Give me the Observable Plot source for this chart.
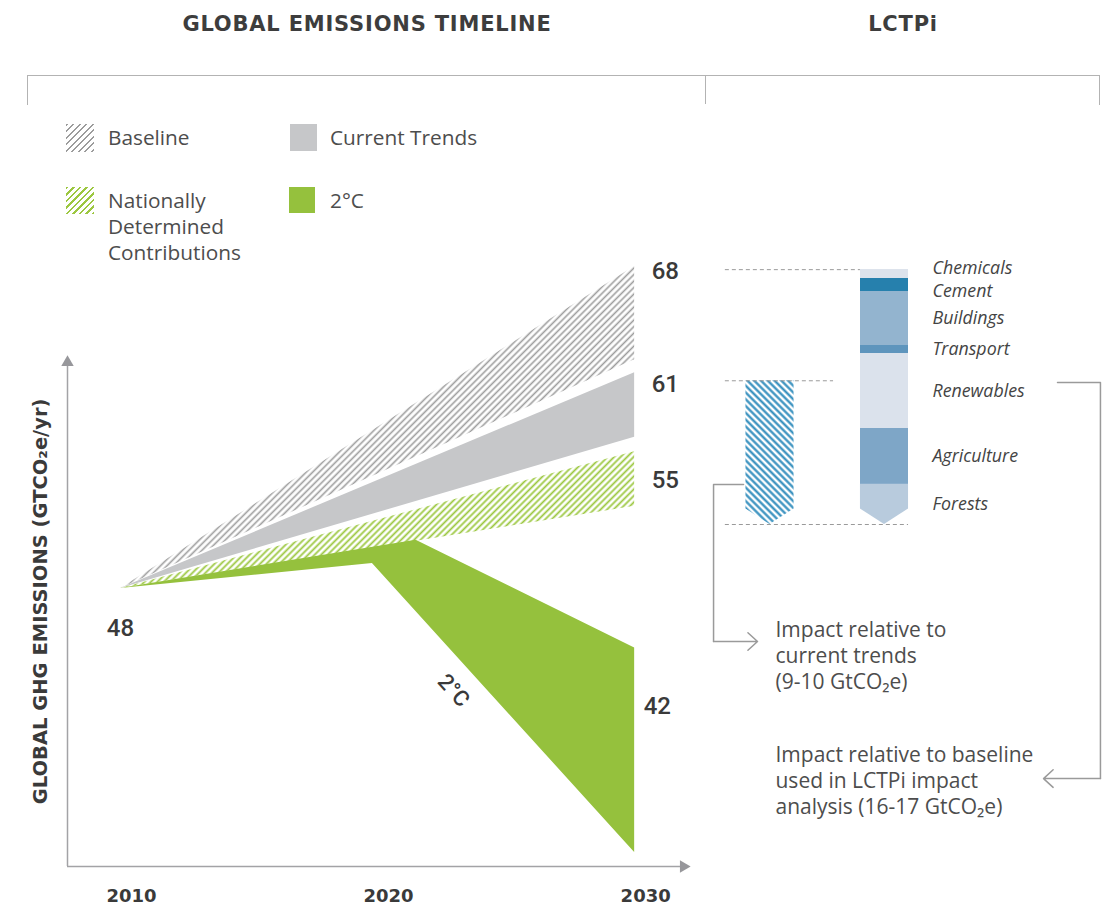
<!DOCTYPE html>
<html><head><meta charset="utf-8">
<script src="https://cdn.jsdelivr.net/npm/d3@7"></script>
<script src="https://cdn.jsdelivr.net/npm/@observablehq/plot@0.6"></script>
<style>
body{margin:0;background:#fff;}
#page{position:relative;width:1103px;height:909px;overflow:hidden;font-family:"Open Sans",sans-serif;color:#4a4a4a;}
.hdr{position:absolute;top:9px;font-family:"DejaVu Sans",sans-serif;font-weight:bold;font-size:21px;letter-spacing:0.8px;color:#3d3d3d;text-align:center;line-height:30px;}
.brk{position:absolute;border:1.5px solid #b3b3b3;border-bottom:none;}
.sw{position:absolute;}
.lt{position:absolute;font-size:20.8px;line-height:26px;color:#4d4d4d;white-space:nowrap;}
#left,#right{position:absolute;top:105px;}
#left{left:0;} #right{left:706px;}
svg{overflow:visible;}
</style></head><body><div id="page">
<div class="hdr" style="left:0;width:734px;">GLOBAL EMISSIONS TIMELINE</div>
<div class="hdr" style="left:706px;width:394px;">LCTPi</div>
<div class="brk" style="left:27px;top:75px;width:1071px;height:29px;"></div>
<div class="brk" style="left:705px;top:75px;width:0;height:29px;border-top:none;border-right:none;"></div>
<div id="left"></div>
<div id="right"></div>
<div class="sw" style="left:66px;top:124px;width:28px;height:28px;background:repeating-linear-gradient(135deg,#9c9c9c 0 1.6px,#fff 1.6px 4.6px);"></div>
<div class="lt" style="left:108px;top:124px;">Baseline</div>
<div class="sw" style="left:290px;top:124px;width:27px;height:27px;background:#c6c7c9;"></div>
<div class="lt" style="left:330px;top:124px;">Current Trends</div>
<div class="sw" style="left:66px;top:187px;width:28px;height:27px;background:repeating-linear-gradient(135deg,#9cc740 0 1.8px,#fff 1.8px 4.6px);"></div>
<div class="lt" style="left:108px;top:187px;">Nationally<br>Determined<br>Contributions</div>
<div class="sw" style="left:289px;top:187px;width:26px;height:26px;background:#95c13d;"></div>
<div class="lt" style="left:330px;top:187px;">2°C</div>
</div>
<script>
// ---------- DATA: global emissions timeline (GtCO2e/yr) ----------
const years = [2010, 2030];
const baselineHigh = [48, 68];
const baselineLow = [48, 62.2];
const trendsHigh = [48, 61.4];
const trendsLow = [48, 57.4];
const ndcHigh = [48, 56.5];
const ndcLow = [48, 53.1];
// 2°C pathway: upper and lower edges peak in different years
const twoDegUpperYears = [2010, 2021.5, 2030];
const twoDegUpper = [48, 51.0, 44.3];
const twoDegLowerYears = [2010, 2019.8, 2030];
const twoDegLower = [48, 49.55, 31.6];
const endLabels = [68, 61, 55];
const lowLabel = 42;
const startLabel = 48;
const xTicks = [2010, 2020, 2030];
const yLabel = "GLOBAL GHG EMISSIONS (GTCO₂e/yr)";
const curveLabel = "2°C";

// ---------- DATA: LCTPi impact (GtCO2e) ----------
const sectors = ["Forests", "Agriculture", "Renewables", "Transport", "Buildings", "Cement", "Chemicals"];
const sectorImpact = [2.6, 3.6, 4.85, 0.52, 3.5, 0.84, 0.58];
const currentTrendsImpact = 9.3;
const noteTrends = "Impact relative to\ncurrent trends\n(9-10 GtCO₂e)";
const noteBaseline = "Impact relative to baseline\nused in LCTPi impact\nanalysis (16-17 GtCO₂e)";

// ---------- styles ----------
const sectorPalette = ["#b8cbdd", "#7ea6c7", "#dbe2ec", "#5e95bd", "#93b4cf", "#2680ad", "#dde3ec"];
const axisGray = "#a3a3a6", numColor = "#3a3a3a";

function addDefs(svg) {
  const ns = "http://www.w3.org/2000/svg";
  const defs = document.createElementNS(ns, "defs");
  defs.innerHTML = `
  <pattern id="hatchGray" patternUnits="userSpaceOnUse" width="4.6" height="4.6" patternTransform="rotate(45)">
    <line x1="2.3" y1="0" x2="2.3" y2="4.6" stroke="#9c9c9c" stroke-width="1.6"/></pattern>
  <pattern id="hatchGreen" patternUnits="userSpaceOnUse" width="4.6" height="4.6" patternTransform="rotate(45)">
    <line x1="2.3" y1="0" x2="2.3" y2="4.6" stroke="#9cc740" stroke-width="1.8"/></pattern>
  <pattern id="hatchBlue" patternUnits="userSpaceOnUse" width="4.8" height="4.8" patternTransform="rotate(-45)">
    <line x1="2.4" y1="0" x2="2.4" y2="4.8" stroke="#2f8cbc" stroke-width="2.2"/></pattern>`;
  svg.insertBefore(defs, svg.firstChild);
  return svg;
}

// ---------- left chart ----------
const xDomain = [2007.94, 2031.9], yDomain = [30.73, 68], yAxisTop = 62.04;
const band = (lo, hi) => years.map((x, i) => ({x, lo: lo[i], hi: hi[i]}));
const twoDeg = twoDegUpper.map((v, i) => ({xu: twoDegUpperYears[i], yu: v, xl: twoDegLowerYears[i], yl: twoDegLower[i]}));
const numFont = {fontFamily: "Roboto", fontWeight: 500, fontSize: 24, fill: numColor};

const leftPlot = Plot.plot({
  width: 706, height: 804,
  marginLeft: 67, marginRight: 23, marginTop: 161, marginBottom: 43,
  x: {domain: xDomain, axis: null},
  y: {domain: yDomain, axis: null},
  marks: [
    Plot.areaY(band(baselineLow, baselineHigh), {x: "x", y1: "lo", y2: "hi", fill: "url(#hatchGray)"}),
    Plot.areaY(band(trendsLow, trendsHigh), {x: "x", y1: "lo", y2: "hi", fill: "#c6c7c9"}),
    Plot.areaY(band(ndcLow, ndcHigh), {x: "x", y1: "lo", y2: "hi", fill: "url(#hatchGreen)"}),
    Plot.area(twoDeg, {x1: "xl", y1: "yl", x2: "xu", y2: "yu", fill: "#95c13d"}),
    // axes with arrowheads
    Plot.ruleY([yDomain[0]], {x1: xDomain[0], x2: xDomain[1], stroke: axisGray, strokeWidth: 1.5}),
    Plot.ruleX([xDomain[0]], {y1: yDomain[0], y2: yAxisTop, stroke: axisGray, strokeWidth: 1.5}),
    Plot.dot([[xDomain[1], yDomain[0]]], {x: d => d[0], y: d => d[1], symbol: "triangle", rotate: 90, r: 4.6, fill: "#97979b", stroke: "none"}),
    Plot.dot([[xDomain[0], yAxisTop]], {x: d => d[0], y: d => d[1], symbol: "triangle", r: 4.6, fill: "#97979b", stroke: "none"}),
    Plot.text(xTicks, {x: d => d, y: yDomain[0], dy: 30, dx: 11, text: d => String(d), fontFamily: "DejaVu Sans", fontWeight: "bold", fontSize: 18, fill: numColor}),
    Plot.text([yLabel], {x: 2006.89, y: 47.2, text: d => d, rotate: -90, fontFamily: "DejaVu Sans", fontWeight: "bold", fontSize: 19.5, fill: numColor}),
    // value labels
    Plot.text(endLabels, {x: 2030, y: d => d, text: d => String(d), dx: 17, dy: 5, textAnchor: "start", ...numFont}),
    Plot.text([lowLabel], {x: 2030, y: d => d, text: d => String(d), dx: 9, dy: 21, textAnchor: "start", ...numFont}),
    Plot.text([startLabel], {x: 2010, y: d => d, text: d => String(d), dy: 40, ...numFont}),
    Plot.text([curveLabel], {x: 2022.96, y: 41.66, text: d => d, rotate: 48, ...numFont, fontSize: 22})
  ]
});
document.getElementById("left").append(addDefs(leftPlot));

// ---------- right chart ----------
const barHalf = 0.21, chevron = 1.0, guideStart = -0.39;
let acc = 0;
const segs = sectors.map((s, i) => { const y1 = acc; acc += sectorImpact[i]; return {sector: s, y1, y2: acc}; });
const total = acc;
const chevronShape = (c, top) => [
  {x: c - barHalf, lo: chevron, hi: top},
  {x: c, lo: 0, hi: top},
  {x: c + barHalf, lo: chevron, hi: top}
];
// label positions: segment midpoints, pushed apart to avoid overlap
const mids = segs.map(d => ({sector: d.sector, y: (d.y1 + d.y2) / 2}));
const gap = 1.5;
for (let it = 0; it < 50; it++) for (let i = 1; i < mids.length; i++) {
  if (mids[i].y - mids[i - 1].y < gap) {
    const m = (mids[i].y + mids[i - 1].y) / 2;
    mids[i].y = m + gap / 2; mids[i - 1].y = m - gap / 2;
  }
}
const guides = [
  {y: total, x2: 1 - barHalf},
  {y: currentTrendsImpact, x2: 0.555},
  {y: 0, x2: 1 + barHalf}
];
const conn1 = [[-0.231, 2.59], [-0.493, 2.59], [-0.493, -7.57]];
const conn2 = [[2.511, 9.19], [2.886, 9.19], [2.886, -16.44]];
const noteStyle = {fontFamily: "Open Sans", fontSize: 21, fill: "#4d4d4d", textAnchor: "start", lineHeight: 1.24};

const rightPlot = Plot.plot({
  width: 397, height: 804,
  marginLeft: 63.5, marginRight: 219, marginTop: 164, marginBottom: 385,
  x: {domain: [0, 1], axis: null},
  y: {domain: [0, 16.5], axis: null},
  color: {type: "ordinal", domain: sectors, range: sectorPalette},
  marks: [
    Plot.areaY(chevronShape(0, currentTrendsImpact), {x: "x", y1: "lo", y2: "hi", fill: "url(#hatchBlue)"}),
    Plot.rect(segs.slice(1), {x1: 1 - barHalf, x2: 1 + barHalf, y1: "y1", y2: "y2", fill: "sector", shapeRendering: "crispEdges"}),
    Plot.areaY(chevronShape(1, segs[0].y2), {x: "x", y1: "lo", y2: "hi", fill: sectorPalette[0]}),
    Plot.ruleY(guides, {y: "y", x1: guideStart, x2: "x2", stroke: "#9a9a9a", strokeWidth: 1, strokeDasharray: "4,3"}),
    Plot.text(mids, {x: 1, y: "y", text: "sector", dx: 48, textAnchor: "start", fontFamily: "Open Sans", fontStyle: "italic", fontSize: 17.8, fill: "#444"}),
    Plot.line(conn1, {x: d => d[0], y: d => d[1], stroke: "#9a9a9a", strokeWidth: 1.5}),
    Plot.arrow([[-0.493, -7.57, -0.109, -7.57]], {x1: d => d[0], y1: d => d[1], x2: d => d[2], y2: d => d[3], stroke: "#9a9a9a", strokeWidth: 1.5, headAngle: 85, headLength: 13}),
    Plot.line(conn2, {x: d => d[0], y: d => d[1], stroke: "#9a9a9a", strokeWidth: 1.5}),
    Plot.arrow([[2.886, -16.44, 2.389, -16.44]], {x1: d => d[0], y1: d => d[1], x2: d => d[2], y2: d => d[3], stroke: "#9a9a9a", strokeWidth: 1.5, headAngle: 85, headLength: 13}),
    Plot.text([noteTrends], {x: 0.048, y: -8.41, text: d => d, ...noteStyle}),
    Plot.text([noteBaseline], {x: 0.048, y: -16.5, text: d => d, ...noteStyle})
  ]
});
document.getElementById("right").append(addDefs(rightPlot));
</script>
</body></html>
